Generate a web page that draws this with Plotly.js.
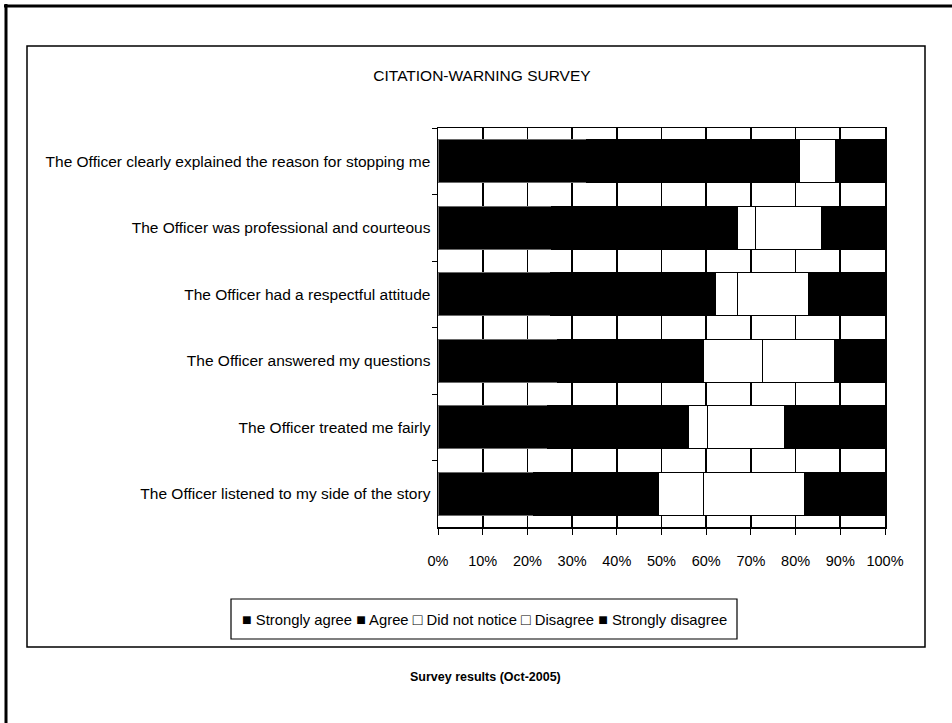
<!DOCTYPE html>
<html>
<head>
<meta charset="utf-8">
<script src="https://cdn.plot.ly/plotly-3.0.1.min.js"></script>
<style>
  html, body { margin: 0; padding: 0; background: #fff; }
  #chart { width: 952px; height: 723px; }
</style>
</head>
<body>
<div id="chart"></div>
<script>
// Survey statements, listed top to bottom
const statements = [
  "The Officer clearly explained the reason for stopping me",
  "The Officer was professional and courteous",
  "The Officer had a respectful attitude",
  "The Officer answered my questions",
  "The Officer treated me fairly",
  "The Officer listened to my side of the story"
];

// Share of responses per statement (percent)
const stronglyAgree    = [33.2, 25.4, 25.1, 26.8, 24.6, 21.4];
const agree            = [47.6, 41.7, 37.0, 32.7, 31.5, 28.0];
const didNotNotice     = [0.0,  4.0,  4.9,  13.0, 4.2,  9.9];
const disagree         = [8.1,  14.7, 15.9, 16.2, 17.3, 22.7];
const stronglyDisagree = [11.1, 14.2, 17.1, 11.3, 22.4, 18.0];

const responseNames = ["Strongly agree", "Agree", "Did not notice", "Disagree", "Strongly disagree"];
const xTicks = [0, 10, 20, 30, 40, 50, 60, 70, 80, 90, 100];

const sans = "Liberation Sans, Arial, Helvetica, sans-serif";

// fill / outline per response level
const fills = ["#000000", "#000000", "#ffffff", "#ffffff", "#000000"];
const edges = ["#6a6a6a", "#000000", "#000000", "#000000", "#000000"];
const values = [stronglyAgree, agree, didNotNotice, disagree, stronglyDisagree];

const data = responseNames.map((name, i) => ({
  type: "bar",
  orientation: "h",
  name: name,
  y: statements,
  x: values[i],
  marker: { color: fills[i], line: { color: edges[i], width: 1 } },
  hoverinfo: "skip",
  showlegend: false
}));

// plot area spans x 438..885, y 128..527 in page pixels
const L = 438, R = 885, T = 128, B = 527;
const px = v => (v - L) / (R - L);
const py = v => (B - v) / (B - T);

// legend line: a filled or open square before each response name
const legendText = responseNames.map((name, i) =>
  '<span style="font-size:16px">' + (fills[i] === "#000000" ? "\u25A0" : "\u25A1") + "</span> " + name
).join(" ");

const layout = {
  width: 952,
  height: 723,
  margin: { l: L, r: 952 - R, t: T, b: 723 - B },
  paper_bgcolor: "#ffffff",
  plot_bgcolor: "#ffffff",
  barmode: "stack",
  bargap: 0.36,
  showlegend: false,
  font: { family: sans, color: "#000000", size: 15 },
  title: {
    text: "CITATION-WARNING SURVEY",
    font: { family: sans, size: 15.5, color: "#000000" },
    xref: "container", yref: "container",
    x: 482 / 952, y: 1 - 76 / 723,
    xanchor: "center", yanchor: "middle"
  },
  xaxis: {
    range: [0, 100],
    tickvals: xTicks,
    ticktext: xTicks.map(v => v + "%"),
    ticks: "outside",
    ticklen: 6,
    tickcolor: "#000000",
    tickwidth: 1,
    showgrid: true,
    gridcolor: "#000000",
    gridwidth: 1.8,
    zeroline: false,
    showline: true,
    linecolor: "#000000",
    linewidth: 1.5,
    mirror: true,
    ticklabelstandoff: 14,
    tickfont: { family: sans, size: 14.5, color: "#000000" },
    fixedrange: true
  },
  yaxis: {
    type: "category",
    autorange: "reversed",
    tickson: "boundaries",
    ticks: "outside",
    ticklen: 5,
    tickcolor: "#000000",
    showgrid: false,
    zeroline: false,
    showline: true,
    linecolor: "#000000",
    linewidth: 1.5,
    mirror: true,
    ticklabelstandoff: 3,
    tickfont: { family: sans, size: 15.5, color: "#000000" },
    fixedrange: true
  },
  annotations: [
    {
      text: legendText,
      xref: "paper", yref: "paper",
      x: px(484), y: py(619),
      xanchor: "center", yanchor: "middle",
      showarrow: false,
      font: { family: sans, size: 14.8, color: "#000000" }
    },
    {
      text: "Survey results (Oct-2005)",
      xref: "paper", yref: "paper",
      x: px(485), y: py(677),
      xanchor: "center", yanchor: "middle",
      showarrow: false,
      font: { family: sans, size: 12.5, color: "#000000", weight: "bold" }
    }
  ],
  shapes: [
    // chart frame
    { type: "rect", xref: "paper", yref: "paper",
      x0: px(27), x1: px(925), y0: py(647), y1: py(46),
      line: { color: "#000000", width: 1.5 }, layer: "below" },
    // legend box
    { type: "rect", xref: "paper", yref: "paper",
      x0: px(231), x1: px(737), y0: py(639), y1: py(599),
      line: { color: "#000000", width: 1.2 }, layer: "below" },
    // page rule, top
    { type: "line", xref: "paper", yref: "paper",
      x0: px(4), x1: px(952), y0: py(6), y1: py(6),
      line: { color: "#000000", width: 3 } },
    // page rule, left
    { type: "line", xref: "paper", yref: "paper",
      x0: px(6), x1: px(6), y0: py(4), y1: py(723),
      line: { color: "#000000", width: 3 } }
  ]
};

Plotly.newPlot("chart", data, layout, { displayModeBar: false, staticPlot: true });
</script>
</body>
</html>
